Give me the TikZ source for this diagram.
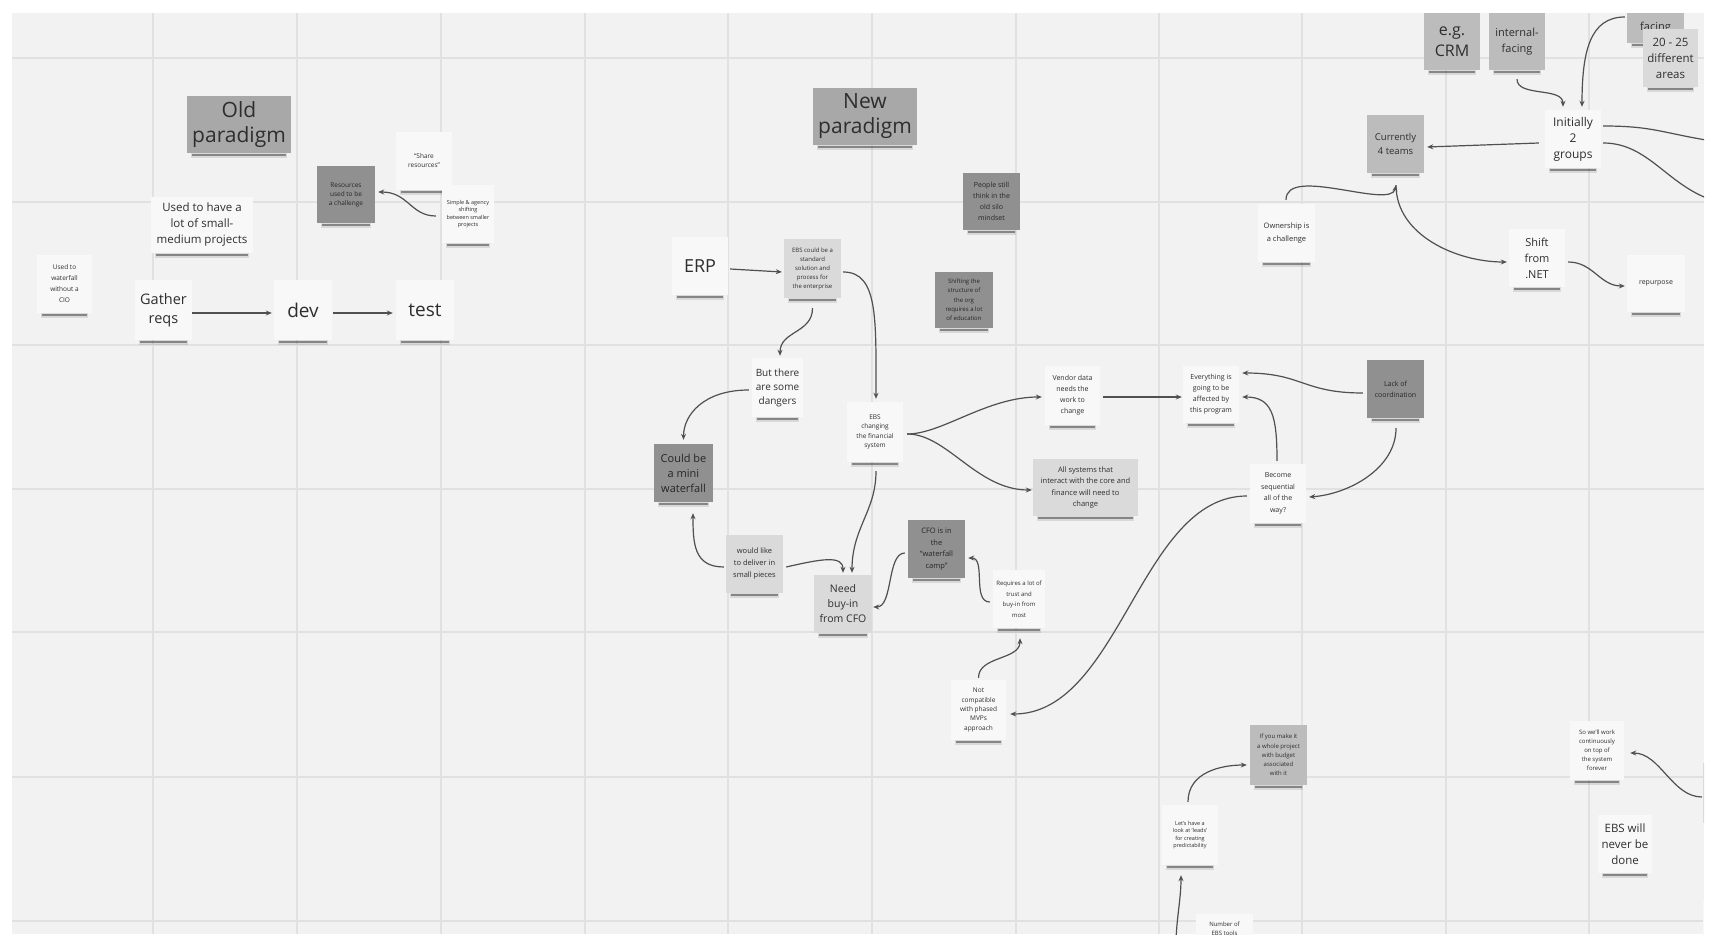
\documentclass[tikz,border=0pt]{standalone}
\usepackage{fontspec}
\setmainfont{Open Sans}
\usetikzlibrary{arrows.meta}
\definecolor{board}{HTML}{F2F2F2}
\definecolor{gridc}{HTML}{E1E1E1}
\definecolor{nwhite}{HTML}{F8F8F8}
\definecolor{nlight}{HTML}{DADADA}
\definecolor{nmid}{HTML}{BCBCBC}
\definecolor{npara}{HTML}{A8A8A8}
\definecolor{ndark}{HTML}{909090}
\definecolor{txt}{HTML}{2E2E2E}
\definecolor{arr}{HTML}{505050}
\tikzset{
  note/.style={inner sep=1pt, align=center, text=txt},
  nw/.style={note, fill=nwhite},
  nl/.style={note, fill=nlight},
  nm/.style={note, fill=nmid},
  np/.style={note, fill=npara},
  nd/.style={note, fill=ndark, text=black!85},
  fs/.style 2 args={font=\fontsize{#1}{#2}\selectfont},
  shadwide/.style={line width=5pt, draw=black, opacity=0.10},
  shad/.style={line width=2.2pt, draw=black!75, opacity=0.55},
  conn/.style={draw=arr, line width=1.2pt, -{Stealth[length=6pt,width=5pt]}},
  link/.style={draw=arr, line width=1.2pt},
  gridline/.style={draw=gridc, line width=1.3pt}
}
\newcommand\snote[6]{%
  \node[#5, minimum width=#3pt, minimum height=#4pt] (#1) at (#2) {#6};
  \draw[shadwide] ([xshift=4pt,yshift=-2.5pt]#1.south west) -- ([xshift=-4pt,yshift=-2.5pt]#1.south east);
  \draw[shad] ([xshift=5pt,yshift=-1.6pt]#1.south west) -- ([xshift=-5pt,yshift=-1.6pt]#1.south east);
}
\begin{document}
\begin{tikzpicture}[x=1pt,y=-1pt]
\useasboundingbox (0,0) rectangle (1713,941);
\fill[white] (0,0) rectangle (1713,941);
\fill[board] (12,13) rectangle (1704,934);
\begin{scope}
\clip (12,13) rectangle (1704,934);
% grid
\foreach \gx in {153,297,441,585,728,872,1016,1159,1302,1446,1589}
  \draw[gridline] (\gx,13) -- (\gx,934);
\foreach \gy in {58,202,345,489,632,777,921}
  \draw[gridline] (12,\gy) -- (1704,\gy);

% ---------- Old paradigm ----------
\snote{oldp}{239,124.5}{104}{57}{np,fs={21}{25}}{Old\\paradigm}
\snote{res}{346,194.5}{58}{57}{nd,fs={6.5}{9}}{Resources\\used to be\\a challenge}
\snote{share}{424,161}{56}{58}{nw,fs={6.5}{9}}{“Share\\resources”}
\snote{simple}{468,214}{52}{58}{nw,fs={5.5}{7.5}}{Simple \& agency\\shifting\\between smaller\\projects}
\snote{used}{202,225}{102}{56}{nw,fs={11.5}{16}}{Used to have a\\lot of small-\\medium projects}
\snote{lsmall}{64.5,284}{55}{58}{nw,fs={6.5}{11}}{Used to\\waterfall\\without a\\CIO}
\snote{gather}{163.5,310}{57}{60}{nw,fs={14.5}{19.5}}{Gather\\reqs}
\snote{dev}{303,310}{58}{60}{nw,fs={19}{22}}{dev}
\snote{test}{425,310}{58}{60}{nw,fs={19}{22}}{test}

% ---------- New paradigm ----------
\snote{newp}{865,116.5}{104}{57}{np,fs={21}{25}}{New\\paradigm}
\snote{people}{991.5,201.5}{57}{57}{nd,fs={7}{11}}{People still\\think in the\\old silo\\mindset}
\snote{erp}{700,266}{56}{58}{nw,fs={18}{20}}{ERP}
\snote{ebs}{812.5,268.5}{57}{59}{nl,fs={6}{9}}{EBS could be a\\standard\\solution and\\process for\\the enterprise}
\snote{dark2}{964,300}{58}{56}{nd,fs={6}{9.3}}{Shifting the\\structure of\\the org\\requires a lot\\of education}
\snote{but}{777.5,387.5}{51}{59}{nw,fs={10}{14}}{But there\\are some\\dangers}
\snote{ebsch}{875,432}{56}{60}{nw,fs={6.5}{9.5}}{EBS\\changing\\the financial\\system}
\snote{could}{683.5,473}{59}{58}{nd,fs={11}{15}}{Could be\\a mini\\waterfall}
\snote{would}{754.5,564}{57}{58}{nl,fs={7.5}{12}}{would like\\to deliver in\\small pieces}
\snote{need}{843,604}{58}{58}{nl,fs={10.5}{15}}{Need\\buy-in\\from CFO}
\snote{cfo}{936.5,549}{57}{58}{nd,fs={7.5}{11.5}}{CFO is in\\the\\“waterfall\\camp”}
\snote{trust}{1019,599}{52}{58}{nw,fs={6}{10.5}}{Requires a lot of\\trust and\\buy-in from\\most}
\snote{notc}{978.5,710}{55}{60}{nw,fs={6.5}{9.3}}{Not\\compatible\\with phased\\MVPs\\approach}
\snote{vendor}{1072.5,395.5}{55}{59}{nw,fs={7}{11}}{Vendor data\\needs the\\work to\\change}
\snote{every}{1211,394.5}{56}{57}{nw,fs={7}{11}}{Everything is\\going to be\\affected by\\this program}
\snote{lack}{1395.5,389}{57}{58}{nd,fs={7}{11}}{Lack of\\coordination}
\snote{allsys}{1085.5,487.5}{105}{57}{nl,fs={7.5}{11.5}}{All systems that\\interact with the core and\\finance will need to\\change}
\snote{become}{1278,493.5}{56}{59}{nw,fs={7}{11.5}}{Become\\sequential\\all of the\\way?}

% ---------- top right ----------
\snote{egcrm}{1452,41.5}{56}{57}{nm,fs={16}{21}}{e.g.\\CRM}
\snote{internal}{1517,41.5}{56}{57}{nm,fs={11}{16}}{internal-\\facing}
\snote{ext}{1655.5,28}{57}{30}{nm,fs={11}{14}}{facing}
\snote{areas}{1670.5,58}{55}{58}{nl,fs={11.5}{16}}{20 - 25\\different\\areas}
\snote{initially}{1573,139}{56}{58}{nw,fs={12}{16}}{Initially\\2\\groups}
\snote{currently}{1395.5,144}{57}{58}{nm,fs={9.5}{14}}{Currently\\4 teams}
\snote{owner}{1286.5,233}{57}{58}{nw,fs={7.5}{13}}{Ownership is\\a challenge}
\snote{shift}{1537,258}{56}{58}{nw,fs={11}{16}}{Shift\\from\\.NET}
\snote{repurp}{1656,283.5}{58}{57}{nw,fs={7}{9}}{repurpose}

% ---------- bottom right ----------
\snote{ifyou}{1278.5,755}{57}{60}{nm,fs={6}{9.2}}{If you make it\\a whole project\\with budget\\associated\\with it}
\snote{lets}{1190,835}{56}{60}{nw,fs={5.5}{7.5}}{Let's have a\\look at `leads'\\for creating\\predictability}
\snote{number}{1224.5,929}{57}{30}{nw,fs={6}{9}}{Number of\\EBS tools}
\snote{sowe}{1597,750.5}{54}{59}{nw,fs={6}{9}}{So we'll work\\continuously\\on top of\\the system\\forever}
\snote{never}{1625,844}{54}{58}{nw,fs={11.5}{16}}{EBS will\\never be\\done}
\fill[nlight] (1703,763) rectangle (1720,823);
\fill[nwhite] (1703,902) rectangle (1720,940);

\coordinate (r1) at (1712,141);
\coordinate (r2) at (1712,200);
\coordinate (belowsrc) at (1176,945);
\coordinate (rsrc) at (1702,797);

% ---------- connectors ----------
\draw[conn] ([yshift=-3pt]gather.east) -- ([xshift=-2pt,yshift=-3pt]dev.west);
\draw[conn] ([xshift=1pt,yshift=-3pt]dev.east) -- ([xshift=-3pt,yshift=-3pt]test.west);
\draw[conn] ([xshift=-6pt,yshift=-2pt]simple.west) .. controls +(-25,0) and +(30,0) .. ([xshift=3pt,yshift=2.5pt]res.east);

\draw[conn] ([xshift=2pt,yshift=-3pt]erp.east) -- ([xshift=-2pt,yshift=-3.5pt]ebs.west);
\draw[conn] ([yshift=-10pt]ebs.south) .. controls +(0,25) and +(0,-25) .. ([xshift=2.5pt,yshift=2pt]but.north);
\draw[conn] ([xshift=2pt,yshift=-3.5pt]ebs.east) .. controls +(35,0) and +(0,-80) .. ([xshift=1pt,yshift=3pt]ebsch.north);
\draw[conn] ([xshift=-3pt,yshift=-2.5pt]but.west) .. controls +(-45,0) and +(0,-25) .. ([yshift=4pt]could.north);
\draw[conn] ([xshift=1pt,yshift=-9pt]ebsch.south) .. controls +(0,40) and +(0,-45) .. ([xshift=9pt,yshift=2pt]need.north);
\draw[conn] ([xshift=3pt,yshift=-3pt]would.east) .. controls +(35,-8) and +(0,-18) .. ([yshift=2pt]need.north);
\draw[conn] ([xshift=-2pt,yshift=-3pt]would.west) .. controls +(-30,0) and +(0,30) .. ([xshift=9.5pt,yshift=-11pt]could.south);
\draw[conn] ([xshift=-3pt,yshift=-4pt]cfo.west) .. controls +(-18,0) and +(20,0) .. ([xshift=1pt,yshift=-3pt]need.east);
\draw[conn] ([xshift=-3pt,yshift=-3pt]trust.west) .. controls +(-18,0) and +(18,0) .. ([xshift=3pt,yshift=-9pt]cfo.east);
\draw[conn] ([yshift=2pt]notc.north) .. controls +(0,-22) and +(0,22) .. ([xshift=1pt,yshift=-10pt]trust.south);
\draw[conn] ([xshift=4pt,yshift=-2pt]ebsch.east) .. controls +(35,0) and +(-55,0) .. ([xshift=-3pt,yshift=-1.5pt]vendor.west);
\draw[conn] ([xshift=4pt,yshift=-2pt]ebsch.east) .. controls +(40,0) and +(-55,0) .. ([xshift=-1pt,yshift=-2.5pt]allsys.west);
\draw[conn] ([xshift=3pt,yshift=-1.5pt]vendor.east) -- ([xshift=-1pt,yshift=-2.5pt]every.west);
\draw[conn] ([xshift=-4pt,yshift=-4pt]lack.west) .. controls +(-60,0) and +(60,0) .. ([xshift=3pt,yshift=21.5pt]every.east);
\draw[conn] ([xshift=-1pt,yshift=3pt]become.north) .. controls +(0,-45) and +(30,0) .. ([xshift=3pt,yshift=-2.5pt]every.east);
\draw[conn] ([xshift=0.5pt,yshift=-10pt]lack.south) .. controls +(0,40) and +(40,-3) .. ([xshift=3pt,yshift=-3.5pt]become.east);
\draw[conn] ([xshift=-3pt,yshift=-2.5pt]become.west) .. controls +(-107,0) and +(110,0) .. ([xshift=4pt,yshift=-4pt]notc.east);

\draw[conn] ([yshift=-9pt]internal.south) .. controls +(0,18) and +(0,-20) .. ([xshift=-10pt,yshift=3pt]initially.north);
\draw[conn] ([xshift=-2pt,yshift=11pt]ext.west) .. controls +(-35,0) and +(0,-55) .. ([xshift=9pt,yshift=3pt]initially.north);
\draw[conn] ([xshift=-6pt,yshift=-4pt]initially.west) -- ([xshift=3pt,yshift=-3pt]currently.east);
\draw[link] ([xshift=2pt,yshift=13pt]initially.east) .. controls +(50,0) and +(-50,-8) .. (r1);
\draw[link] ([xshift=2pt,yshift=-4pt]initially.east) .. controls +(45,0) and +(-45,-15) .. (r2);
\draw[conn] ([xshift=-0.5pt,yshift=4pt]owner.north) .. controls +(0,-35) and +(-5,25) .. ([xshift=0.5pt,yshift=-12pt]currently.south);
\draw[conn] ([xshift=0.5pt,yshift=-12pt]currently.south) .. controls +(0,50) and +(-50,0) .. ([xshift=-2pt,yshift=-4pt]shift.west);
\draw[conn] ([xshift=3pt,yshift=-4pt]shift.east) .. controls +(25,0) and +(-25,0) .. ([xshift=-2pt,yshift=-2.5pt]repurp.west);

\draw[conn] ([xshift=-2pt,yshift=3pt]lets.north) .. controls +(0,-30) and +(-25,0) .. ([xshift=-3pt,yshift=-10pt]ifyou.west);
\draw[conn] (belowsrc) .. controls +(0,-25) and +(0,25) .. ([xshift=-9pt,yshift=-10pt]lets.south);
\draw[conn] (rsrc) .. controls +(-30,0) and +(30,0) .. ([xshift=6pt,yshift=-2.5pt]sowe.east);
\end{scope}
\end{tikzpicture}
\end{document}
